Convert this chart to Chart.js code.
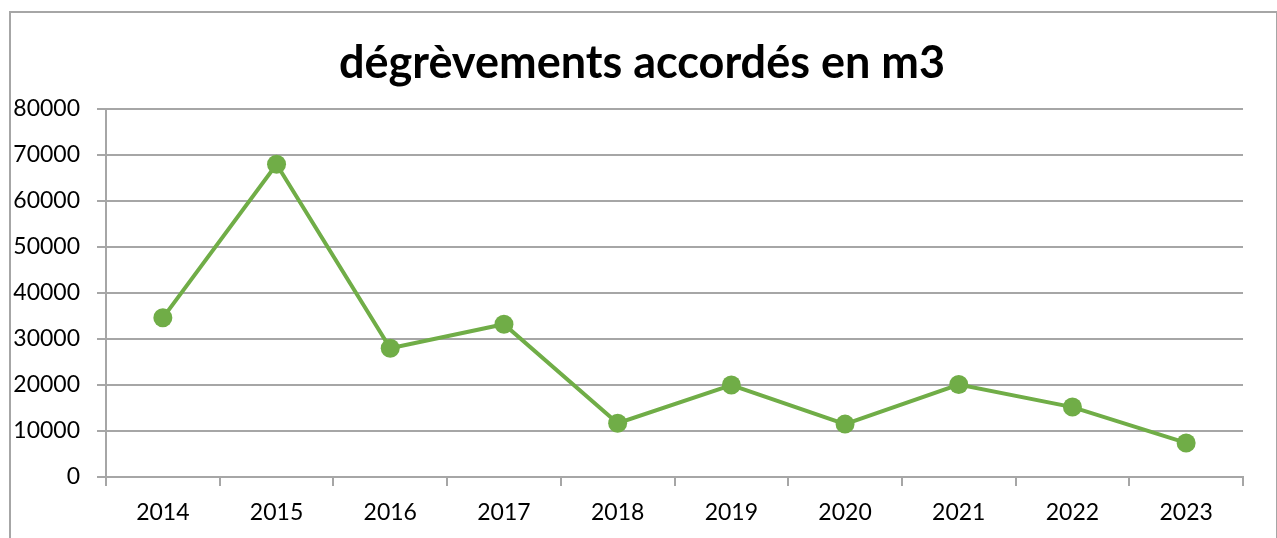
<!DOCTYPE html>
<html>
<head>
<meta charset="utf-8">
<script src="https://cdn.jsdelivr.net/npm/chart.js@4"></script>
<style>
  html, body { margin: 0; padding: 0; background: #fff; }
  #wrap { position: relative; width: 1277px; height: 538px; }
  #frame {
    position: absolute; left: 9px; top: 11px; width: 1265px; height: 540px;
    border: 2px solid #a6a6a6; border-bottom: none;
  }
  canvas { position: absolute; left: 0; top: 0; }
</style>
</head>
<body>
<div id="wrap">
  <div id="frame"></div>
  <canvas id="chart" width="1277" height="538"></canvas>
</div>
<script>
// data
const years = ['2014', '2015', '2016', '2017', '2018', '2019', '2020', '2021', '2022', '2023'];
const degrevements = [34600, 68000, 28000, 33200, 11700, 20000, 11500, 20100, 15200, 7400];
const yTicks = [0, 10000, 20000, 30000, 40000, 50000, 60000, 70000, 80000];
const chartTitle = 'dégrèvements accordés en m3';

const gridColor = '#a6a6a6';
const green = '#70ad47';

// title centred on the whole frame, like the original
const titlePlugin = {
    id: 'frameTitle',
    afterDraw(chart) {
        const c = chart.ctx;
        c.save();
        c.font = 'bold 45px Lato';
        c.fillStyle = '#000';
        c.textAlign = 'center';
        c.textBaseline = 'alphabetic';
        c.fillText(chartTitle, 642, 78);
        c.restore();
    }
};

const ctx = document.getElementById('chart').getContext('2d');
new Chart(ctx, {
    type: 'line',
    data: {
        labels: years,
        datasets: [{
            label: 'dégrèvements',
            data: degrevements,
            borderColor: green,
            backgroundColor: green,
            borderWidth: 4,
            pointRadius: 9.5,
            pointBackgroundColor: green,
            pointBorderWidth: 0,
            tension: 0
        }]
    },
    plugins: [titlePlugin],
    options: {
        responsive: false,
        animation: false,
        layout: { padding: { left: 0, right: 34, top: 109, bottom: 0 } },
        plugins: {
            legend: { display: false },
            tooltip: { enabled: false },
            title: { display: false }
        },
        scales: {
            x: {
                offset: true,
                grid: {
                    offset: true,
                    drawOnChartArea: false,
                    color: gridColor,
                    lineWidth: 2,
                    tickLength: 9
                },
                border: { color: gridColor, width: 2 },
                ticks: {
                    color: '#000',
                    font: { family: 'Lato', size: 23 },
                    padding: 13,
                    maxRotation: 0
                },
                afterFit: scale => { scale.height = 61; }
            },
            y: {
                min: 0,
                max: 80000,
                afterBuildTicks: scale => { scale.ticks = yTicks.map(v => ({ value: v })); },
                grid: {
                    color: gridColor,
                    lineWidth: 2,
                    tickLength: 9
                },
                border: { color: gridColor, width: 2 },
                ticks: {
                    color: '#000',
                    font: { family: 'Lato', size: 23 },
                    padding: 17,
                    callback: v => String(v)
                },
                afterFit: scale => { scale.width = 106; }
            }
        }
    }
});
</script>
</body>
</html>
